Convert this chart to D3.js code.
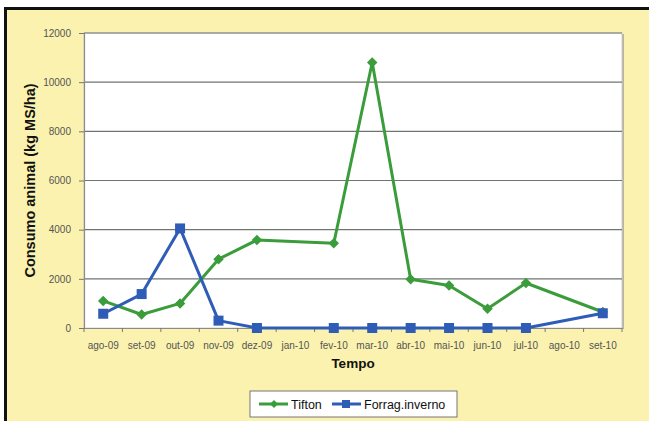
<!DOCTYPE html>
<html>
<head>
<meta charset="utf-8">
<script src="https://cdn.jsdelivr.net/npm/d3@7"></script>
<style>
  body { margin: 0; background: #fff; }
  svg { display: block; font-family: "Liberation Sans", Arial, sans-serif; }
</style>
</head>
<body>
<div id="chart-area"></div>
<script>
// chart values (null = no point that month)
let months = ["ago-09", "set-09", "out-09", "nov-09", "dez-09", "jan-10", "fev-10",
              "mar-10", "abr-10", "mai-10", "jun-10", "jul-10", "ago-10", "set-10"];
let tifton = [1100, 550, 1000, 2800, 3580, null, 3450, 10800, 1980, 1730, 780, 1830, null, 650];
let forrag = [580, 1380, 4050, 300, 0, null, 0, 0, 0, 0, 0, 0, null, 600];
let yTicks = [0, 2000, 4000, 6000, 8000, 10000, 12000];

let seriesNames = ["Tifton", "Forrag.inverno"];
let colors = {"Tifton": "#3a9c3a", "Forrag.inverno": "#2f5cb6"};

let W = 649, H = 421;
let margin = {top: 33, right: 27, bottom: 93, left: 84};
let width = W - margin.left - margin.right;
let height = H - margin.top - margin.bottom;

let root = d3.select("#chart-area").append("svg")
    .attr("width", W)
    .attr("height", H);

// yellow page with the black frame on top/left
root.append("rect").attr("x", 0).attr("y", 0).attr("width", W).attr("height", H).attr("fill", "#fff");
root.append("rect").attr("x", 7).attr("y", 10).attr("width", W - 7).attr("height", H - 10).attr("fill", "#faf2ae");
root.append("rect").attr("x", 4).attr("y", 7).attr("width", W - 4).attr("height", 3).attr("fill", "#111");
root.append("rect").attr("x", 4).attr("y", 7).attr("width", 3).attr("height", H - 7).attr("fill", "#111");

let svg = root.append("g")
    .attr("transform", "translate(" + margin.left + "," + margin.top + ")");

// Scales
let x = d3.scaleBand().domain(months).range([0, width]);
let y = d3.scaleLinear().domain([0, 12000]).range([height, 0]);

// plot area with a little shadow on the right
svg.append("rect").attr("x", width).attr("y", 1).attr("width", 2).attr("height", height)
    .attr("fill", "#b9b5a0");
svg.append("rect").attr("width", width).attr("height", height)
    .attr("fill", "#fff").attr("stroke", "#c8c8c8").attr("stroke-width", 0.8);

// gridlines
svg.selectAll(".grid").data(yTicks.filter(d => d > 0)).enter()
    .append("line")
    .attr("x1", 0).attr("x2", width)
    .attr("y1", d => y(d)).attr("y2", d => y(d))
    .attr("stroke", "#6f7670").attr("stroke-width", 1.2);

// Axes
let yAxis = d3.axisLeft(y).tickValues(yTicks).tickSize(5).tickPadding(8).tickFormat(d3.format("d"));
let gy = svg.append("g").attr("class", "axis y-axis").call(yAxis);

// x ticks sit on the category borders, like in Excel
let xAxis = d3.axisBottom(x).tickSize(0).tickPadding(14);
let gx = svg.append("g").attr("class", "axis x-axis")
    .attr("transform", "translate(0," + height + ")").call(xAxis);
gx.selectAll(".border-tick").data(d3.range(months.length + 1)).enter()
    .append("line")
    .attr("x1", i => i * x.step()).attr("x2", i => i * x.step())
    .attr("y1", 0).attr("y2", 4)
    .attr("stroke", "#777");

root.selectAll(".axis path.domain").attr("stroke", "#8a8a8a").attr("stroke-width", 1.2);
root.selectAll(".axis .tick line").attr("stroke", "#777");
root.selectAll(".axis text").attr("fill", "#555").style("font-size", "10px");

// axis titles
svg.append("text")
    .attr("transform", "translate(" + (-49) + "," + (height / 2) + ") rotate(-90)")
    .attr("text-anchor", "middle")
    .style("font-size", "14.5px").style("font-weight", "bold").attr("fill", "#111")
    .text("Consumo animal (kg MS/ha)");
svg.append("text")
    .attr("x", width / 2).attr("y", height + 40)
    .attr("text-anchor", "middle")
    .style("font-size", "13.5px").style("font-weight", "bold").attr("fill", "#111")
    .text("Tempo");

// lines (gaps are bridged)
let series = [
    {name: "Tifton", values: tifton},
    {name: "Forrag.inverno", values: forrag}
];
let line = d3.line()
    .x(d => x(d.m) + x.bandwidth() / 2)
    .y(d => y(d.v));

let diamond = d3.symbol().type(d3.symbolDiamond2).size(70);

series.forEach(s => {
    let pts = months.map((m, i) => ({m: m, v: s.values[i]})).filter(d => d.v !== null);
    svg.append("path")
        .attr("d", line(pts))
        .attr("fill", "none")
        .attr("stroke", colors[s.name])
        .attr("stroke-width", 3)
        .attr("stroke-linejoin", "round");
    if (s.name === "Tifton") {
        svg.selectAll(".mk-t").data(pts).enter().append("path")
            .attr("d", diamond)
            .attr("transform", d => "translate(" + (x(d.m) + x.bandwidth() / 2) + "," + y(d.v) + ")")
            .attr("fill", colors[s.name]);
    } else {
        svg.selectAll(".mk-f").data(pts).enter().append("rect")
            .attr("x", d => x(d.m) + x.bandwidth() / 2 - 5)
            .attr("y", d => y(d.v) - 5)
            .attr("width", 10).attr("height", 10)
            .attr("fill", colors[s.name]);
    }
});

// legend
let legend = root.append("g").attr("transform", "translate(250,391)");
legend.append("rect").attr("width", 207).attr("height", 26)
    .attr("fill", "#fff").attr("stroke", "#777").attr("stroke-width", 1);
let lx = [9, 82];
seriesNames.forEach((n, i) => {
    let g = legend.append("g").attr("transform", "translate(" + lx[i] + ",13)");
    g.append("line").attr("x1", 0).attr("x2", 29).attr("stroke", colors[n]).attr("stroke-width", 3);
    if (i === 0) {
        g.append("path").attr("d", d3.symbol().type(d3.symbolDiamond2).size(40)).attr("transform", "translate(15,0)")
            .attr("fill", colors[n]);
    } else {
        g.append("rect").attr("x", 10).attr("y", -4).attr("width", 8).attr("height", 8).attr("fill", colors[n]);
    }
    g.append("text").attr("x", 32).attr("y", 4.5)
        .style("font-size", "12.5px").attr("fill", "#111").text(n);
});
</script>
</body>
</html>
